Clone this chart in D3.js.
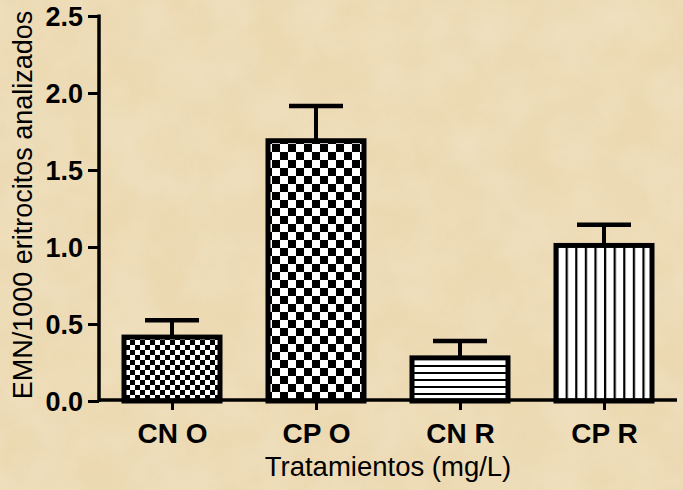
<!DOCTYPE html>
<html><head><meta charset="utf-8">
<script src="https://cdn.jsdelivr.net/npm/d3@7"></script>
<style>body{margin:0;}svg{display:block;}</style>
</head><body>
<script>
const categories = ["CN O","CP O","CN R","CP R"];
const values = [0.415, 1.69, 0.28, 1.01];
const errors = [0.11, 0.225, 0.11, 0.135];
const yTicks = [0.0,0.5,1.0,1.5,2.0,2.5];
const patterns = ["checkSmall","checkLarge","hstripe","vstripe"];

const W=683,H=490;
const svg=d3.select("body").append("svg").attr("width",W).attr("height",H);
const defs=svg.append("defs");
const f=defs.append("filter").attr("id","paper").attr("x",0).attr("y",0).attr("width","100%").attr("height","100%");
f.append("feTurbulence").attr("type","fractalNoise").attr("baseFrequency","0.015").attr("numOctaves",4).attr("seed",7).attr("result","n");
f.append("feColorMatrix").attr("in","n").attr("type","matrix")
 .attr("values","0 0 0 0 0.84  0 0 0 0 0.74  0 0 0 0 0.55  0.6 0 0 0 -0.15").attr("result","c");
const f2=defs.append("filter").attr("id","paper2").attr("x",0).attr("y",0).attr("width","100%").attr("height","100%");
f2.append("feTurbulence").attr("type","fractalNoise").attr("baseFrequency","0.02").attr("numOctaves",3).attr("seed",21).attr("result","n");
f2.append("feColorMatrix").attr("in","n").attr("type","matrix")
 .attr("values","0 0 0 0 0.98  0 0 0 0 0.94  0 0 0 0 0.84  0.6 0 0 0 -0.2");
svg.append("rect").attr("width",W).attr("height",H).attr("fill","#ecd9b1");
svg.append("rect").attr("width",W).attr("height",H).attr("filter","url(#paper)").attr("opacity",0.8);
svg.append("rect").attr("width",W).attr("height",H).attr("filter","url(#paper2)").attr("opacity",0.6);

function checker(id,s){
  const p=defs.append("pattern").attr("id",id).attr("patternUnits","userSpaceOnUse").attr("width",2*s).attr("height",2*s);
  p.append("rect").attr("width",2*s).attr("height",2*s).attr("fill","#fff");
  p.append("rect").attr("width",s).attr("height",s).attr("fill","#000");
  p.append("rect").attr("x",s).attr("y",s).attr("width",s).attr("height",s).attr("fill","#000");
}
checker("checkSmall",5);
checker("checkLarge",8);
{const p=defs.append("pattern").attr("id","hstripe").attr("patternUnits","userSpaceOnUse").attr("width",10).attr("height",7).attr("y",1);
 p.append("rect").attr("width",10).attr("height",7).attr("fill","#fff");
 p.append("rect").attr("width",10).attr("height",2).attr("fill","#000");}
{const p=defs.append("pattern").attr("id","vstripe").attr("patternUnits","userSpaceOnUse").attr("width",9.6).attr("height",10).attr("x",556);
 p.append("rect").attr("width",9.6).attr("height",10).attr("fill","#fff");
 p.append("rect").attr("width",2.2).attr("height",10).attr("fill","#000");}

const x=d3.scalePoint().domain(categories).range([172,604]);
const y=d3.scaleLinear().domain([0,2.5]).range([401,16]);
const bw=96;

const g=svg.append("g");
categories.forEach((c,i)=>{
  const cx=x(c);
  g.append("line").attr("x1",cx).attr("x2",cx).attr("y1",y(values[i])).attr("y2",y(values[i]+errors[i])).attr("stroke","#000").attr("stroke-width",4);
  g.append("line").attr("x1",cx-27).attr("x2",cx+27).attr("y1",y(values[i]+errors[i])).attr("y2",y(values[i]+errors[i])).attr("stroke","#000").attr("stroke-width",4.5);
});
g.selectAll(".bar").data(categories).join("rect")
 .attr("x",d=>x(d)-bw/2).attr("width",bw)
 .attr("y",(d,i)=>y(values[i])).attr("height",(d,i)=>y(0)-y(values[i]))
 .attr("fill",(d,i)=>`url(#${patterns[i]})`).attr("stroke","#000").attr("stroke-width",5);

const font="Arial, 'Liberation Sans', sans-serif";
const yAxis=svg.append("g").attr("transform","translate(99,0)")
 .call(d3.axisLeft(y).tickValues(yTicks).tickFormat(d3.format(".1f")).tickSize(11).tickPadding(5).tickSizeOuter(0));
yAxis.select(".domain").attr("stroke-width",3.5).attr("d","M0,14.5V402");
yAxis.selectAll(".tick line").attr("stroke-width",3);
yAxis.selectAll("text").attr("font-family",font).attr("font-weight","bold").attr("font-size",27).attr("fill","#000").attr("dy","0.36em");

const xAxis=svg.append("g").attr("transform","translate(0,400)")
 .call(d3.axisBottom(x).tickSize(10).tickSizeOuter(0));
xAxis.select(".domain").attr("stroke-width",3.5).attr("d","M99,0H677");
xAxis.selectAll(".tick line").attr("stroke-width",3);
xAxis.selectAll("text").attr("font-family",font).attr("font-weight","bold").attr("font-size",28).attr("fill","#000").attr("y",43).attr("dy",0);

svg.append("text").attr("x",388).attr("y",476).attr("text-anchor","middle").attr("font-family",font).attr("font-size",27.5).text("Tratamientos (mg/L)");
svg.append("text").attr("transform","translate(32,205) rotate(-90)").attr("text-anchor","middle").attr("font-family",font).attr("font-size",27).text("EMN/1000 eritrocitos analizados");
</script>
</body></html>
